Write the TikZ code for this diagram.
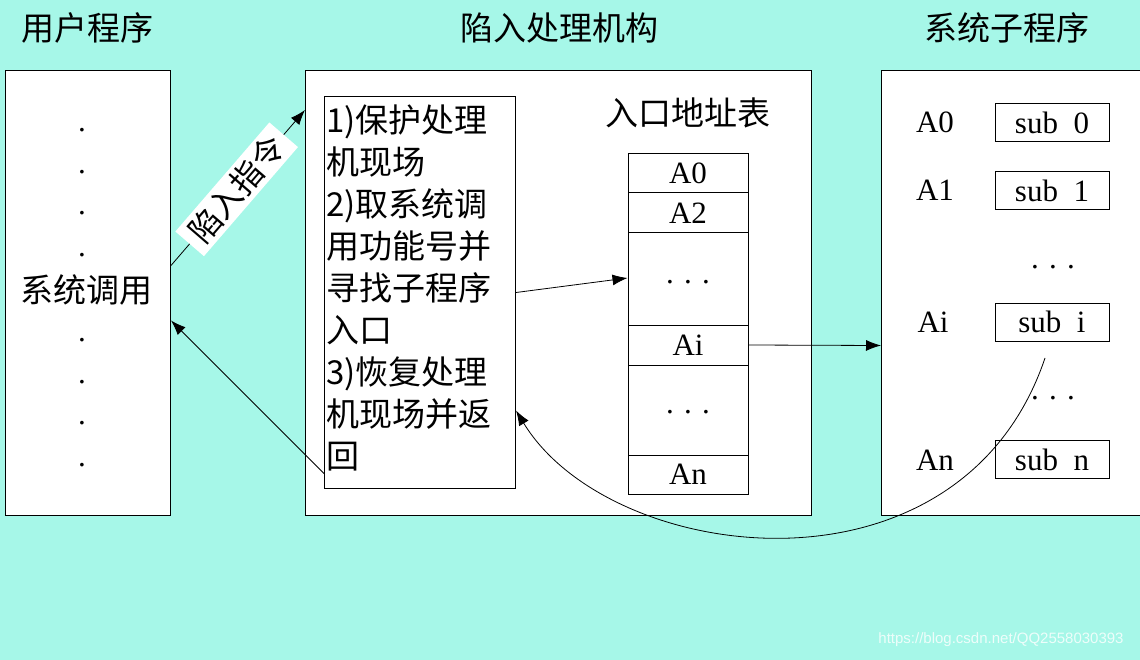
\documentclass[tikz,border=0pt]{standalone}
\usepackage{fontspec}
\setmainfont{Liberation Serif}
\newfontfamily\cjk{Noto Sans CJK SC}
\newfontfamily\wmfont{Liberation Sans}
\usetikzlibrary{arrows.meta,calc}
\definecolor{bg}{RGB}{166,247,232}
\begin{document}
\begin{tikzpicture}[x=1pt,y=-1pt,line width=1pt,
 box/.style={draw=black,fill=white,inner sep=0,anchor=north west},
 cn/.style={font=\cjk\fontsize{33}{40}\selectfont,inner sep=0},
 lat/.style={font=\fontsize{31}{36}\selectfont,inner sep=0},
 cell/.style={draw=black,fill=white,minimum width=120,inner sep=0,font=\fontsize{31}{36}\selectfont},
 subbox/.style={draw=black,fill=white,minimum width=114,minimum height=38,inner sep=0,font=\fontsize{31}{36}\selectfont},
 arr/.style={-{Latex[length=15pt,width=11pt]},line width=0.8pt}]
\fill[bg] (0,0) rectangle (1140,660);
\useasboundingbox (0,0) rectangle (1140,660);
% titles
\node[cn] (t1) at (87,28) {用户程序};
\node[cn] (t2) at (559,28) {陷入处理机构};
\node[cn] (t3) at (1007,28) {系统子程序};
% user program
\node[box,minimum width=165,minimum height=445] (user) at (5,70) {};
\foreach \y [count=\i] in {130,172,213,255,340,382,423,465}
  \node[lat] (ud\i) at (82,\y) {.};
\node[cn] (call) at (86,290) {系统调用};
% trap handler
\node[box,minimum width=506,minimum height=445] (mid) at (305,70) {};
\node[box,minimum width=191,minimum height=392] (inner) at (324,96) {};
\node[cn,anchor=north west,align=left,font=\cjk\fontsize{33}{42}\selectfont] (steps) at (326,104)
 {1)保护处理\\机现场\\2)取系统调\\用功能号并\\寻找子程序\\入口\\3)恢复处理\\机现场并返\\回};
\node[cn] (tabt) at (688,113) {入口地址表};
\node[cell,minimum height=39] (a0) at (688,173.5) {A0};
\node[cell,minimum height=40] (a2) at (688,213) {A2};
\node[cell,minimum height=92] (d1) at (688,279) {\raisebox{-9pt}{.\,\,.\,\,.}};
\node[cell,minimum height=40] (ai) at (688,345) {Ai};
\node[cell,minimum height=90] (d2) at (688,410) {\raisebox{-8pt}{.\,\,.\,\,.}};
\node[cell,minimum height=39] (an) at (688,474.5) {An};
% subprograms
\node[box,minimum width=270,minimum height=445] (sys) at (881,70) {};
\node[lat] (l0) at (935,122) {A0};
\node[lat] (l1) at (935,190) {A1};
\node[lat] (li) at (933,322) {Ai};
\node[lat] (ln) at (935,460) {An};
\node[lat] (sd1) at (1053,267) {.\,\,.\,\,.};
\node[lat] (sd2) at (1053,398) {.\,\,.\,\,.};
\node[subbox] (s0) at (1052,123) {sub\ \ 0};
\node[subbox] (s1) at (1052,191) {sub\ \ 1};
\node[subbox] (si) at (1052,322) {sub\ \ i};
\node[subbox] (sn) at (1052,459.5) {sub\ \ n};
% connectors
\draw[arr] ([yshift=27.5pt]user.east) -- node[sloped,pos=0.49,fill=white,inner xsep=8pt,inner ysep=4pt,font=\cjk\fontsize{32}{34}\selectfont] (trap) {陷入指令} ([yshift=-40pt]mid.north west);
\draw[arr] (inner.east) -- ([yshift=1pt]d1.west);
\draw[arr] (ai.east) -- ([yshift=-52.5pt]sys.west);
\draw[arr] ([yshift=-181pt]inner.west) -- ([yshift=-27.5pt]user.east);
\coordinate (c5) at (1045,358);
\draw[arr] (c5) .. controls (960,610) and (610,565) .. ([yshift=-118pt]inner.east);
% watermark
\node[font=\wmfont\fontsize{15}{18}\selectfont,text=white,text opacity=0.8,inner sep=0] (wm) at (1001,640) {https://blog.csdn.net/QQ2558030393};
\end{tikzpicture}
\end{document}
